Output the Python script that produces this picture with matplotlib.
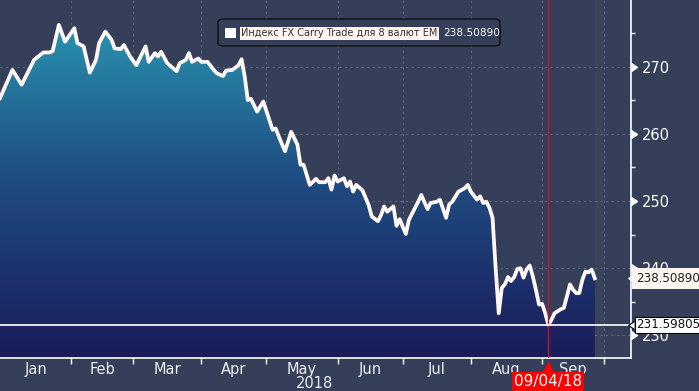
import matplotlib
matplotlib.use("Agg")
import matplotlib.pyplot as plt
import matplotlib.transforms as mtransforms
import numpy as np
from matplotlib.colors import LinearSegmentedColormap
from matplotlib.patches import FancyBboxPatch, Rectangle

# --- data: trading-day number (weekdays since 2018-01-01) and index level ---
day = [0, 4, 7, 11, 14, 16, 17, 19, 21, 24, 25, 27, 29, 31, 32, 34, 36, 37, 39, 40,
       42, 44, 47, 48, 50, 51, 52, 54, 57, 58, 60, 61, 62, 64, 65, 67, 69, 70, 72, 73,
       75, 77, 78, 79, 80, 81, 83, 85, 86, 88, 89, 90, 92, 94, 96, 97, 98, 100, 102, 103,
       105, 106, 107, 108, 109, 111, 112, 113, 114, 115, 117, 119, 120, 122, 123, 124, 125, 127, 128, 129,
       131, 132, 135, 136, 138, 139, 141, 142, 144, 145, 146, 148, 150, 151, 152, 154, 155, 156, 157, 158,
       159, 160, 161, 162, 163, 164, 165, 166, 167, 168, 169, 170, 171, 172, 173, 174, 175, 176, 177, 178,
       179, 181, 182, 183, 184, 185, 186, 187, 188, 189, 190, 191, 192]
level = [265.3, 269.5, 267.3, 271.0, 272.1, 272.1, 272.3, 276.2, 273.7, 275.7, 273.5, 273.0, 269.1, 271.0, 273.5, 275.2, 274.0, 272.7, 272.6, 273.2,
         271.5, 270.2, 273.0, 270.7, 272.0, 271.5, 272.2, 270.5, 269.3, 270.5, 271.0, 272.0, 270.7, 271.2, 270.7, 270.7, 269.5, 269.0, 268.6, 269.4,
         269.5, 270.2, 271.1, 268.5, 265.0, 265.2, 263.3, 264.8, 263.4, 260.6, 260.8, 259.6, 257.4, 260.3, 258.4, 255.4, 255.4, 252.4, 253.3, 252.8,
         252.8, 253.4, 251.7, 253.8, 252.9, 253.4, 252.2, 252.9, 251.4, 252.4, 251.6, 249.4, 247.7, 247.0, 247.9, 249.2, 248.4, 249.2, 246.3, 247.3,
         245.1, 247.2, 249.9, 250.9, 248.8, 249.7, 249.9, 250.2, 247.5, 249.5, 249.9, 251.4, 251.9, 252.4, 251.4, 250.2, 250.7, 249.7, 249.9, 249.0,
         247.5, 240.0, 233.3, 237.1, 237.6, 238.7, 238.1, 238.7, 239.9, 240.0, 238.6, 239.8, 240.4, 238.8, 236.8, 234.6, 234.7, 233.3, 231.59805, 232.3,
         233.3, 233.9, 234.1, 235.8, 237.6, 236.8, 236.3, 236.3, 238.3, 239.5, 239.4, 239.8, 238.5089]

month_names = ["Jan", "Feb", "Mar", "Apr", "May", "Jun", "Jul", "Aug", "Sep"]
month_starts = [0, 23, 43, 65, 86, 109, 130, 152, 175, 195]
year_label = "2018"
series_name = "Индекс FX Carry Trade для 8 валют EM"
last_value = 238.50890
low_value = 231.59805
low_day = 177
low_label = "09/04/18"
y_ticks = [230, 240, 250, 260, 270]
y_minor = [235, 245, 255, 265, 275]

BG = "#353f59"
GRID = "#5b6885"
NARROW = ["Liberation Sans Narrow", "DejaVu Sans"]

x_lo, x_hi = 0, 203.6
y_lo, y_hi = 226.7, 279.9

fig = plt.figure(figsize=(6.99, 3.91), dpi=100, facecolor=BG)
ax = fig.add_axes([0, 0.0852, 0.9023, 0.9148])
ax.set_facecolor(BG)

# gradient area under the line
cmap = LinearSegmentedColormap.from_list("carry", ["#1a1c5a", "#1f4c82", "#2b9db5"])
grad = np.linspace(1, 0, 256).reshape(-1, 1)
im = ax.imshow(grad, extent=[x_lo, x_hi, y_lo, y_hi], aspect="auto", cmap=cmap,
               origin="upper", zorder=1, interpolation="bilinear")
poly = ax.fill_between(day, level, y_lo, facecolor="none", edgecolor="none")
im.set_clip_path(poly.get_paths()[0], transform=ax.transData)

ax.plot(day, level, color="#fff7f3", lw=2.7, solid_joinstyle="round", zorder=3)

# region after last print
ax.axvspan(day[-1], month_starts[-1], color="white", alpha=0.025, lw=0, zorder=0.5)

ax.set_xlim(x_lo, x_hi)
ax.set_ylim(y_lo, y_hi)

# grid
for m in month_starts[1:]:
    ax.axvline(m, color=GRID, lw=0.8, ls=(0, (2, 3)), zorder=0.8)
for v in y_ticks:
    ax.axhline(v, color=GRID, lw=0.8, ls=(0, (2, 3)), zorder=0.8)

for s in ["top", "left"]:
    ax.spines[s].set_visible(False)
for s in ["right", "bottom"]:
    ax.spines[s].set_color("white")
    ax.spines[s].set_linewidth(1.2)

# y axis on the right
ax.yaxis.tick_right()
ax.set_yticks(y_ticks)
ax.set_yticks(y_minor, minor=True)
ax.tick_params(axis="y", which="major", length=0, pad=8, labelcolor="white", labelsize=10.5)
ax.tick_params(axis="y", which="minor", length=3, width=1, color="white", direction="out")
for lab in ax.get_yticklabels():
    lab.set_family(NARROW)
ax.plot(np.ones(len(y_ticks)), y_ticks, transform=ax.get_yaxis_transform(), marker=9,
        ms=6, color="white", ls="none", clip_on=False, zorder=5)

# x axis: month boundaries as ticks, names in the middle
ax.set_xticks(month_starts[1:])
ax.set_xticklabels([])
mids = [(a + b) / 2 for a, b in zip(month_starts[:-1], month_starts[1:])]
ax.set_xticks(mids, minor=True)
ax.set_xticklabels(month_names, minor=True)
ax.tick_params(axis="x", which="major", length=4, width=1, color="white", direction="out")
ax.tick_params(axis="x", which="minor", length=0, pad=3, labelcolor="#eeeeee", labelsize=10.5)
for lab in ax.get_xticklabels(minor=True):
    lab.set_family(NARROW)
xb = ax.get_xaxis_transform()
ax.text(mids[4] + 4, -0.071, year_label, transform=xb, ha="center", va="center",
        color="#eeeeee", fontsize=10.5, family=NARROW)

# low marker: red vertical line, horizontal white line
ax.axvline(low_day, color="#c8102e", lw=1, zorder=4)
ax.axhline(low_value, color="white", lw=1.2, zorder=4)
ax.plot([low_day], [-0.03], transform=xb, marker="^", ms=9, color="#ff0000",
        clip_on=False, zorder=6)
ax.text(low_day, -0.066, low_label, transform=xb, ha="center", va="center", color="white",
        fontsize=11, family=NARROW, zorder=7,
        bbox=dict(boxstyle="square,pad=0.12", fc="#ff0000", ec="none"))

# value tags on the right axis
yb = ax.get_yaxis_transform()
shift = mtransforms.ScaledTranslation(2.6 / 72, 0, fig.dpi_scale_trans)
tags = [(last_value, "#fff5ef", "none", "#222222", 0.32), (low_value, "white", "black", "#111111", 0.12)]
for val, fc, ec, tc, pad in tags:
    ax.annotate(f"{val:.5f}", xy=(1, val), xycoords=yb, xytext=(3.9, 0),
                textcoords="offset points", ha="left", va="center", color=tc,
                fontsize=8.6, family=NARROW, annotation_clip=False, zorder=8,
                bbox=dict(boxstyle=f"square,pad={pad}", fc=fc, ec=ec, lw=0.8))
    ax.plot([1], [val], transform=yb + shift, marker=8, ms=6, color=fc,
            mec=ec if ec != "none" else fc, mew=0.8, ls="none", clip_on=False, zorder=9)

# legend box
W, H = 699, 391
fig.patches.append(FancyBboxPatch((218 / W, (H - 46) / H), 282 / W, 27 / H,
                                  boxstyle="round,pad=0,rounding_size=0.008",
                                  transform=fig.transFigure, fc=BG, ec="#111111", lw=1))
fig.patches.append(Rectangle((225 / W, (H - 38) / H), 11 / W, 10 / H,
                             transform=fig.transFigure, fc="white", ec="none"))
t1 = fig.text(241 / W, (H - 33.5) / H, series_name, ha="left", va="center", fontsize=7.0,
              color="#333333", bbox=dict(boxstyle="square,pad=0.15", fc="#fff5ef", ec="none"))
fig.text(443 / W, (H - 33.5) / H, f"{last_value:.5f}", ha="left", va="center",
         fontsize=7.6, color="white")

fig.savefig("out.png", dpi=100, facecolor=BG)
